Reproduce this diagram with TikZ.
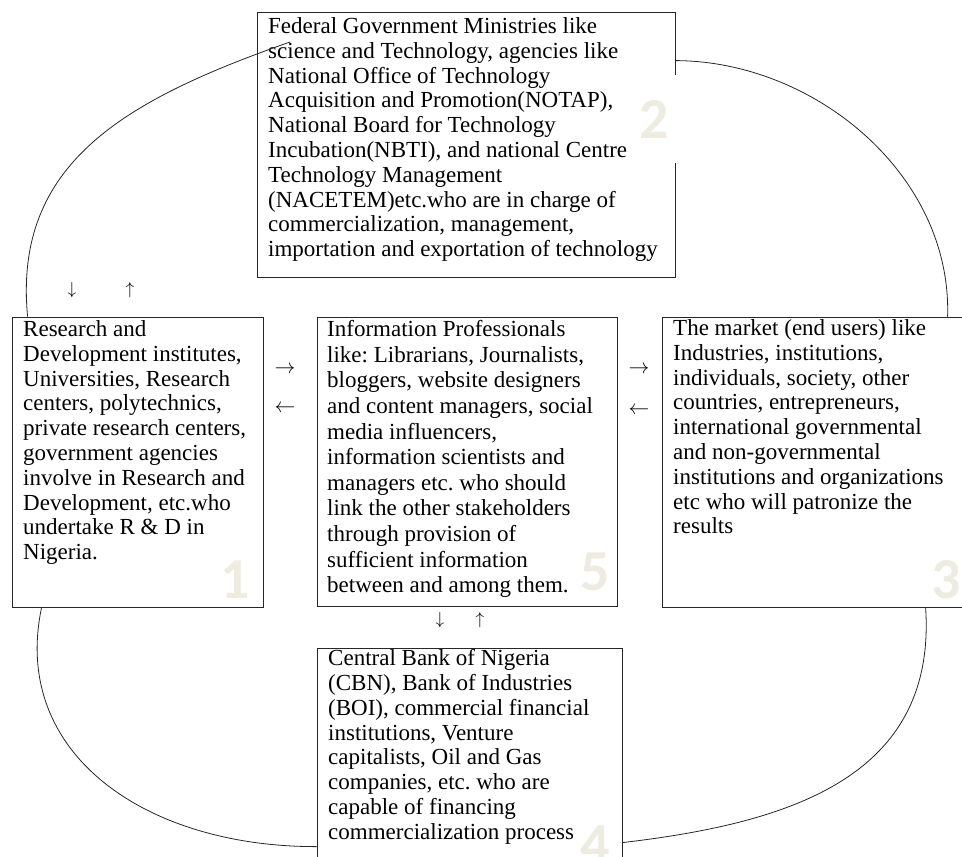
\documentclass[tikz,border=0pt]{standalone}
\usepackage{fontspec}
\setmainfont{Liberation Serif}
\newfontfamily\numfont{Carlito}
\usetikzlibrary{calc}
\definecolor{numtan}{HTML}{EEECE1}
\frenchspacing
\tikzset{
  stakebox/.style={draw=black!85, line width=0.8pt, inner sep=0pt},
  boxtext/.style={anchor=north west, align=left, inner sep=0pt,
    font=\fontsize{23}{24.8}\selectfont},
  bignum/.style={font=\numfont\bfseries\fontsize{58}{58}\selectfont,
    text=numtan, inner sep=0pt},
  flowsign/.style={inner sep=0pt, font=\fontsize{20}{20}\selectfont},
  link/.style={draw=black!85, line width=0.8pt}
}
\begin{document}
\begin{tikzpicture}[x=1pt, y=-1pt]
  \useasboundingbox (0,0) rectangle (962,857);
  % the five stakeholder boxes
  \node[stakebox, minimum width=251, minimum height=290] (rnd) at (137.5,462) {};
  \node[stakebox, minimum width=418, minimum height=265] (gov) at (466,144.5) {};
  \node[stakebox, minimum width=310, minimum height=290] (mkt) at (817,462) {};
  \node[stakebox, minimum width=305, minimum height=230] (fin) at (469.5,763) {};
  \node[stakebox, minimum width=300, minimum height=289] (info) at (467,461.5) {};
  % texts
  \node[boxtext] (rndtext) at (23,320.3) {Research and\\Development institutes,\\Universities, Research\\centers, polytechnics,\\private research centers,\\government agencies\\involve in Research and\\Development, etc.who\\undertake R \& D in\\Nigeria.};
  \node[boxtext] (govtext) at (268,17.3) {Federal Government Ministries like\\science and Technology, agencies like\\National Office of Technology\\Acquisition and Promotion(NOTAP),\\National Board for Technology\\Incubation(NBTI), and national Centre\\Technology Management\\(NACETEM)etc.who are in charge of\\commercialization, management,\\importation and exportation of technology};
  \node[boxtext] (mkttext) at (673,319.3) {The market (end users) like\\Industries, institutions,\\individuals, society, other\\countries, entrepreneurs,\\international governmental\\and non-governmental\\institutions and organizations\\etc who will patronize the\\results};
  \node[boxtext] (fintext) at (328,649.3) {Central Bank of Nigeria\\(CBN), Bank of Industries\\(BOI), commercial financial\\institutions, Venture\\capitalists, Oil and Gas\\companies, etc. who are\\capable of financing\\commercialization process};
  \node[boxtext, font=\fontsize{23}{25.6}\selectfont] (infotext) at (327,320.3) {Information Professionals\\like: Librarians, Journalists,\\bloggers, website designers\\and content managers, social\\media influencers,\\information scientists and\\managers etc. who should\\link the other stakeholders\\through provision of\\sufficient information\\between and among them.};
  % numbers
  \node[bignum, anchor=base] (numone) at (235,598) {1};
  \node[bignum, fill=white, minimum width=55, minimum height=88] (numtwo) at (654,119) {2};
  \node[bignum, anchor=base] (numthree) at (946,598) {3};
  \node[bignum, anchor=base] (numfour) at (595,863) {4};
  \node[bignum, anchor=base] (numfive) at (595,590) {5};
  % arrow signs
  \node[flowsign, font=\fontsize{16}{16}\selectfont] (dnone) at (72,290) {$\downarrow$};
  \node[flowsign, font=\fontsize{16}{16}\selectfont] (upone) at (130,290) {$\uparrow$};
  \node[flowsign] (rtone) at (285,370) {$\rightarrow$};
  \node[flowsign] (ltone) at (285,409) {$\leftarrow$};
  \node[flowsign] (rttwo) at (639,370) {$\rightarrow$};
  \node[flowsign] (lttwo) at (639,411) {$\leftarrow$};
  \node[flowsign, font=\fontsize{16}{16}\selectfont] (dntwo) at (440,620) {$\downarrow$};
  \node[flowsign, font=\fontsize{16}{16}\selectfont] (uptwo) at (480,620) {$\uparrow$};
  % the ring of links
  \coordinate (govin) at (290,42);
  \draw[link] ($(rnd.north west)+(16,0)$) .. controls (13,163) and (125,100) .. (govin);
  \draw[link] ($(gov.north east)+(0,49)$) .. controls (815,61) and (952,175) .. ($(mkt.north west)+(286,0)$);
  \draw[link] ($(rnd.south west)+(30,0)$) .. controls (10.5,754) and (146,847) .. ($(fin.north west)+(0,199)$);
  \draw[link] ($(fin.north east)+(0,195)$) .. controls (790,823) and (937,777) .. ($(mkt.south west)+(264,0)$);
\end{tikzpicture}
\end{document}
